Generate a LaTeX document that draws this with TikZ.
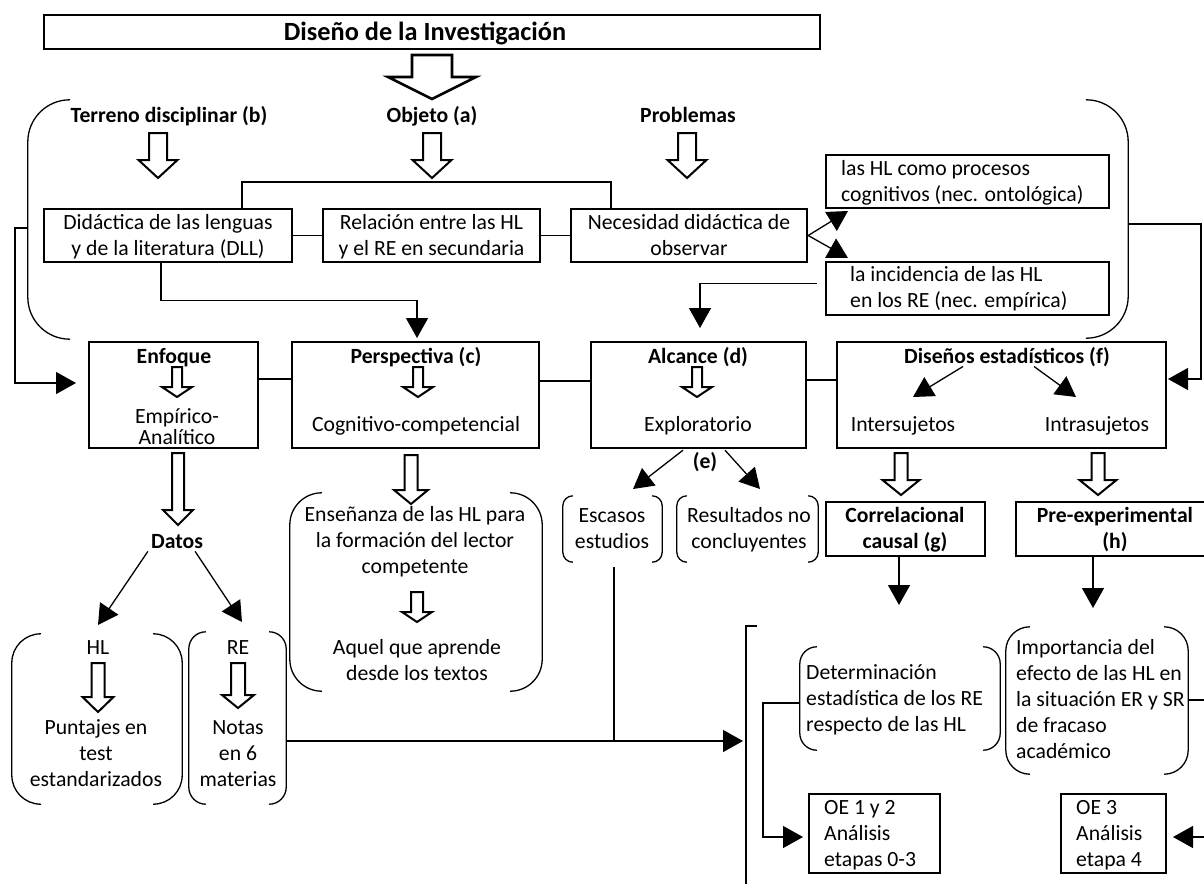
\documentclass[tikz,border=0pt]{standalone}
\usepackage{fontspec}
\setmainfont{Carlito}
\usetikzlibrary{arrows.meta,calc}

\newcommand\fs{\fontsize{21.7}{26}\selectfont}
\newcommand\titlefs{\fontsize{26.3}{30}\selectfont\bfseries}

\tikzset{
  box/.style={draw, line width=2.4pt, inner sep=0pt},
  area/.style={draw=none, inner sep=0pt},
  lbl/.style={font=\fs, inner sep=0pt, align=center, anchor=base},
  lbll/.style={font=\fs, inner sep=0pt, align=left, anchor=base west},
  hd/.style={font=\fs\bfseries, inner sep=0pt, align=center, anchor=base},
  conn/.style={line width=1.3pt},
  arr/.style={conn, -{Triangle[length=20pt,width=22pt]}},
  brk/.style={line width=1.3pt},
  hollow/.style={fill=white, line join=miter},
}

% hollow block arrow pointing down: [line width]{x}{top}{tip}{shaft width}{head width}{head length}
\newcommand\hollowdown[7][2pt]{%
  \draw[hollow, line width=#1] ({#2-#5/2},#3) -- ({#2-#5/2},{#4-#7}) -- ({#2-#6/2},{#4-#7})
    -- (#2,#4) -- ({#2+#6/2},{#4-#7}) -- ({#2+#5/2},{#4-#7}) -- ({#2+#5/2},#3) -- cycle;}

% a pair of round brackets around a named area: {node}{corner radius}
\newcommand\bracketpair[2]{%
  \draw[brk, rounded corners=#2pt] ($(#1.north west)+(#2,0)$) -- (#1.north west)
    -- (#1.south west) -- ($(#1.south west)+(#2,0)$);
  \draw[brk, rounded corners=#2pt] ($(#1.north east)+(-#2,0)$) -- (#1.north east)
    -- (#1.south east) -- ($(#1.south east)+(-#2,0)$);}

\begin{document}
\begin{tikzpicture}[x=1pt, y=-1pt]
\useasboundingbox (0,0) rectangle (1204,886);

% ---- title
\node[box, minimum width=776pt, minimum height=34pt] (title) at (432,32) {};
\node[font=\titlefs, inner sep=0pt, anchor=base] (titletxt) at (425,40) {Diseño de la Investigación};
\hollowdown[2.6pt]{432}{55}{99}{40}{88}{22}

% ---- upper labels (multi-line texts are placed by their last baseline)
\node[hd] (terreno) at (169,122) {Terreno disciplinar (b)};
\node[hd] (objeto) at (432,122) {Objeto (a)};
\node[hd] (problemas) at (688,122) {Problemas};
\hollowdown{158}{133}{178}{18}{39}{18}
\hollowdown{432}{133}{178}{18}{39}{18}
\hollowdown{687}{133}{178}{18}{39}{18}

% ---- second row
\node[box, minimum width=248pt, minimum height=53pt] (dll) at (168,235.5) {};
\node[lbl] (dllt) at (168,255.6) {Didáctica de las lenguas\\y de la literatura (DLL)};
\node[box, minimum width=217pt, minimum height=53pt] (rel) at (431.5,235.5) {};
\node[lbl] (relt) at (431.5,255.6) {Relación entre las HL\\y el RE en secundaria};
\node[box, minimum width=236pt, minimum height=53pt] (nec) at (689,235.5) {};
\node[lbl] (nect) at (689,255.6) {Necesidad didáctica de\\observar};

\node[box, minimum width=283pt, minimum height=53pt] (ont) at (967.5,181.5) {};
\node[lbll] (ontt) at (841,201.3) {las HL como procesos\\cognitivos (nec. ontológica)};
\node[box, minimum width=283pt, minimum height=53pt] (emp) at (967.5,288.5) {};
\node[lbll] (empt) at (850,307.3) {la incidencia de las HL\\en los RE (nec. empírica)};

% ---- braces around the upper block
\node[area, minimum width=42pt, minimum height=239pt] (lbr) at (49,219.5) {};
\draw[brk, rounded corners=42pt] (lbr.north east) -- (lbr.north west) -- (lbr.south west) -- (lbr.south east);
\node[area, minimum width=42pt, minimum height=238pt] (rbr) at (1107,219) {};
\draw[brk, rounded corners=42pt] (rbr.north west) -- (rbr.north east) -- (rbr.south east) -- (rbr.south west);

% ---- third row
\node[box, minimum width=169pt, minimum height=106pt] (enf) at (173.5,395) {};
\node[hd] (enfh) at (174,363) {Enfoque};
\hollowdown{177}{367}{397}{10}{30}{10}
\node[lbl, font=\fontsize{21.7}{21.5}\selectfont] (enft) at (177,444.5) {Empírico-\\Analítico};

\node[box, minimum width=247pt, minimum height=106pt] (pers) at (415.5,395) {};
\node[hd] (persh) at (416,363) {Perspectiva (c)};
\hollowdown{418}{367}{397}{10}{30}{10}
\node[lbl] (perst) at (416,431) {Cognitivo-competencial};

\node[box, minimum width=215pt, minimum height=106pt] (alc) at (698.5,395) {};
\node[hd] (alch) at (698,363) {Alcance (d)};
\hollowdown{697}{367}{397}{10}{30}{10}
\node[lbl] (alct) at (698,431) {Exploratorio};

\node[box, minimum width=329pt, minimum height=106pt] (dis) at (1001.5,395) {};
\node[hd] (dish) at (1007,363) {Diseños estadísticos (f)};
\node[lbl] (inter) at (903,431) {Intersujetos};
\node[lbl] (intra) at (1097,431) {Intrasujetos};

% ---- lower left: data
\hollowdown{178}{453}{525}{12}{30}{15}
\node[hd] (datos) at (177,548) {Datos};
\node[area, minimum width=170pt, minimum height=170pt] (hlg) at (97,719) {};
\bracketpair{hlg}{29}
\node[lbl] (hlh) at (98,654) {HL};
\hollowdown{98}{663}{712}{13}{31}{15}
\node[lbl] (hlt) at (96,786.7) {Puntajes en\\test\\estandarizados};
\node[area, minimum width=97pt, minimum height=172pt] (reg) at (237.5,718) {};
\bracketpair{reg}{17}
\node[lbl] (reh) at (238,654) {RE};
\hollowdown{238}{663}{708}{14}{32}{13}
\node[lbl] (ret) at (238,786.7) {Notas\\en 6\\materias};

% ---- perspective consequences
\hollowdown{411}{455}{504}{13}{34}{14}
\node[area, minimum width=252pt, minimum height=198pt] (ens) at (416,592) {};
\bracketpair{ens}{32}
\node[lbl] (enst) at (415,573.5) {Enseñanza de las HL para\\la formación del lector\\competente};
\hollowdown{417}{592}{622}{12}{30}{10}
\node[lbl] (aquel) at (417,680) {Aquel que aprende\\desde los textos};

% ---- scope consequences
\node[hd] (elbl) at (705,468) {(e)};
\node[area, minimum width=99pt, minimum height=66pt] (esc) at (612.5,529) {};
\bracketpair{esc}{10}
\node[lbl] (esct) at (612,548.3) {Escasos\\estudios};
\node[area, minimum width=141pt, minimum height=66pt] (res) at (747.5,529) {};
\bracketpair{res}{10}
\node[lbl] (rest) at (749,548.3) {Resultados no\\concluyentes};

% ---- statistical designs
\hollowdown{901}{453}{495}{13}{37}{15}
\hollowdown{1098}{453}{495}{13}{37}{15}
\node[box, minimum width=159pt, minimum height=54pt] (corr) at (905.5,529) {};
\node[hd] (corrt) at (905,548.3) {Correlacional\\causal (g)};
\node[box, minimum width=198pt, minimum height=54pt] (pre) at (1115,529) {};
\node[hd] (pret) at (1115,548.3) {Pre-experimental\\(h)};

\node[area, minimum width=200pt, minimum height=103pt] (det) at (900,698.5) {};
\bracketpair{det}{17}
\node[lbll] (dett) at (806,731.7) {Determinación\\estadística de los RE\\respecto de las HL};
\node[area, minimum width=182pt, minimum height=147pt] (imp) at (1097,700.5) {};
\bracketpair{imp}{24}
\node[lbll] (impt) at (1016,758.3) {Importancia del\\efecto de las HL en\\la situación ER y SR\\de fracaso\\académico};

\node[box, minimum width=131pt, minimum height=79pt] (oe1) at (874.5,833.5) {};
\node[lbll] (oe1t) at (824,866.7) {OE 1 y 2\\Análisis\\etapas 0-3};
\node[box, minimum width=105pt, minimum height=79pt] (oe3) at (1113.5,833.5) {};
\node[lbll] (oe3t) at (1076,866.7) {OE 3\\Análisis\\etapa 4};

% ---- free ends and turning points of connectors
\coordinate (brA) at (242,182);
\coordinate (brB) at (611,182);
\coordinate (ontIn) at (848,211);
\coordinate (empIn) at (848,258);
\coordinate (lbm) at (28,228);
\coordinate (lturn) at (15,228);
\coordinate (enfIn) at (76,383);
\coordinate (persIn) at (417,338);
\coordinate (alcIn) at (700,328);
\coordinate (rbm) at (1128,224);
\coordinate (rturn) at (1201,224);
\coordinate (disIn) at (1168,379);
\coordinate (interIn) at (913,397);
\coordinate (intraIn) at (1076,397);
\coordinate (escIn) at (633,489);
\coordinate (resIn) at (760,489);
\coordinate (hlIn) at (98,625);
\coordinate (reIn) at (242,622);
\coordinate (bigIn) at (743,741);
\coordinate (escJoin) at (614,741);
\coordinate (detIn) at (899,605);
\coordinate (impIn) at (1093,608);
\coordinate (detTurn) at (763,703);
\coordinate (oe1In) at (803,837);
\coordinate (impTurn) at (1210,700);
\coordinate (oe3In) at (1173,837);

% ---- connectors
\draw[conn] (dll.north -| brA) -- (brA) -- (brB) -- (nec.north -| brB);
\draw[conn] (dll) -- (rel);
\draw[conn] (rel) -- (nec);
\draw[arr] (nec.east) -- (ontIn);
\draw[arr] (nec.east) -- (empIn);
\draw[arr] (lbm) -- (lturn) |- (enfIn);
\draw[arr] ($(dll.south)+(-7,0)$) -- ++(0,37) -| (persIn);
\draw[arr] ($(emp.west)+(-8,-5)$) -| (alcIn);
\draw[arr] (rbm) -- (rturn) |- (disIn);

\draw[conn] ($(enf.east)+(0,-16)$) -- ($(pers.west)+(0,-16)$);
\draw[conn] ($(pers.east)+(0,-14)$) -- ($(alc.west)+(0,-14)$);
\draw[conn] ($(alc.east)+(0,-15)$) -- ($(dis.west)+(0,-15)$);

\draw[arr] ($(dish.south)+(-44,0)$) -- (interIn);
\draw[arr] ($(dish.south)+(27,0)$) -- (intraIn);
\draw[arr] ($(alc.south)+(-15.5,1)$) -- (escIn);
\draw[arr] ($(alc.south)+(26.5,1)$) -- (resIn);
\draw[arr] ($(datos.south west)+(-3,3)$) -- (hlIn);
\draw[arr] ($(datos.south east)+(-8,3)$) -- (reIn);

\draw[conn] ($(esc.south)+(1.5,5)$) -- (escJoin);
\draw[arr] (reg.east |- bigIn) -- (bigIn);
\draw[brk] (757,626) -- (746,626) -- (746,884);

\draw[arr] (corr.south -| detIn) -- (detIn);
\draw[arr] (pre.south -| impIn) -- (impIn);
\draw[arr] (det.west |- detTurn) -- (detTurn) |- (oe1In);
\draw[arr] (imp.east |- impTurn) -- (impTurn) |- (oe3In);
\end{tikzpicture}
\end{document}
